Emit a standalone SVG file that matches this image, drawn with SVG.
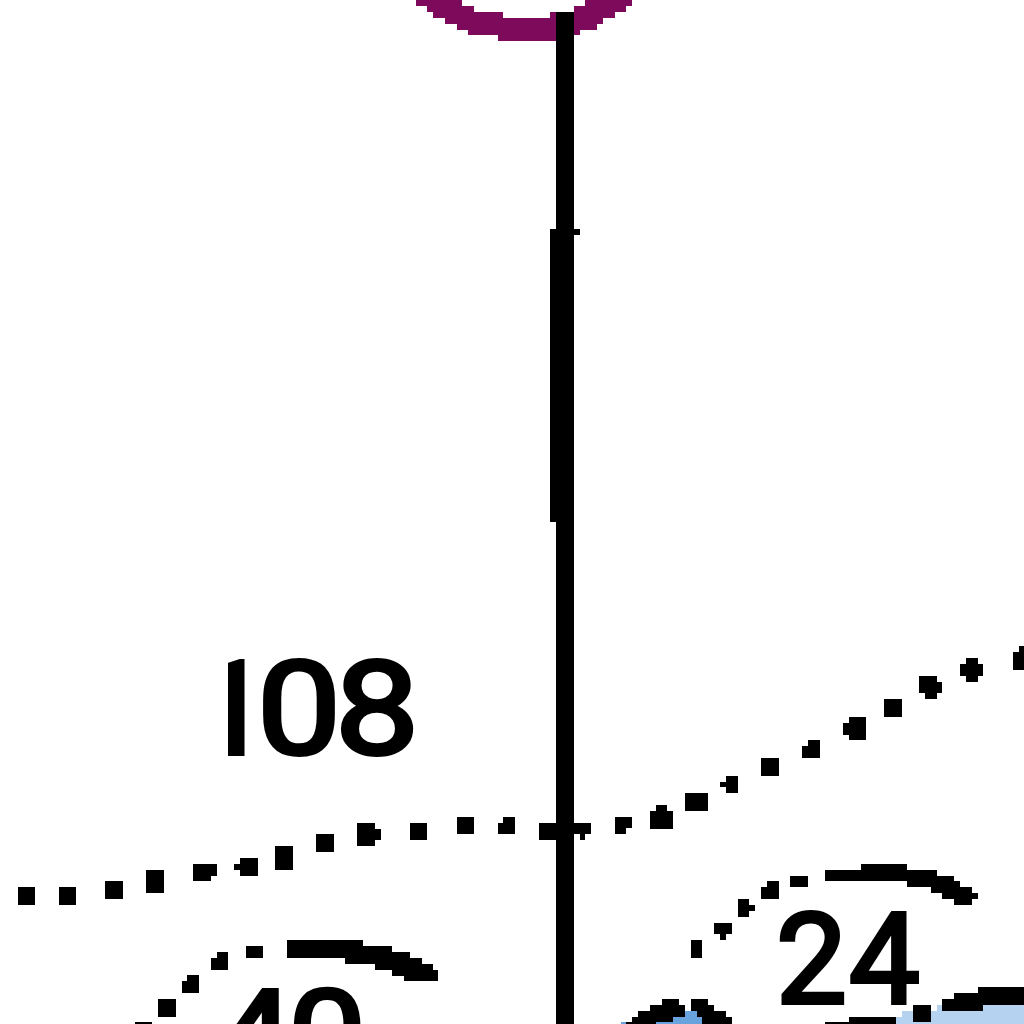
<svg xmlns="http://www.w3.org/2000/svg" width="1024" height="1024" viewBox="0 0 1024 1024">
<style>
.k{fill:#000}
.t{font-family:Roboto,"Liberation Sans",sans-serif;fill:#000;stroke:#000;stroke-width:4px}
</style>
<defs><clipPath id="c108"><rect x="228" y="640" width="200" height="130"/></clipPath></defs>
<rect width="1024" height="1024" fill="#fff"/>
<g shape-rendering="crispEdges">
<path fill="#7d0a5a" d="M416 0H462V6H474V12H503V18H550V12H556V41H498V35H468V30H457V24H445V18H433V12H427V6H416Z"/>
<path fill="#7d0a5a" d="M574 6V35H580V30H597V24H603V18H615V12H626V6H632V0H585V6Z"/>
<path fill="#b5d3f0" d="M896 1024V1017H902V1011H937V1005H1024V1024Z"/>
<path fill="#68a3de" d="M621 1024V1022H656V1017H673V1011H697V1017H702V1024Z"/>
<path class="k" d="M556 12H574V229H580V235H574V823H591V834H585V840H580V834H574V1024H556V840H539V823H556V522H550V229H556Z"/>
<path class="k" d="M18 887H35V905H18Z M59 887H76V905H59Z M105 881H123V899H105Z M146 870H164V893H146Z M193 864H217V876H211V881H193Z M240 858H258V876H240V870H234V864H240Z M275 846H293V870H275Z M316 834H334V852H316Z M357 823H375V829H381V840H375V846H357Z M410 823H427V840H410Z M457 817H474V834H457Z M503 817H515V834H498V823H503Z"/>
<path class="k" d="M615 817H632V828H626V834H615Z M656 805H667V811H673V829H650V811H656Z M685 793H708V811H685Z M726 776H738V793H726V787H720V782H726Z M761 758H779V776H761Z M808 740H820V758H802V746H808Z M849 717H866V740H849V735H843V723H849Z M884 699H902V717H884Z M919 676H937V682H942V693H937V699H925V693H919Z M966 658H978V664H983V676H978V682H966V676H960V664H966Z M1019 646H1024V670H1013V652H1019Z"/>
<path class="k" d="M135 1022H152V1024H135Z M158 999H176V1017H158Z M187 975H199V993H182V981H187Z M217 952H228V970H211V958H217Z M246 946H263V958H246Z"/>
<path class="k" d="M691 940H702V958H691Z M714 923H732V934H726V940H720V934H714Z M738 899H749V905H755V911H749V917H738Z M767 881H779V899H761V887H767Z M790 876H808V887H790Z"/>
<path class="k" d="M287 940H363V946H392V952H410V958H422V964H433V970H438V981H404V976H392V970H375V964H345V958H287Z"/>
<path class="k" d="M861 864H907V870H937V876H954V881H960V887H972V893H978V899H972V905H954V899H942V893H931V887H907V881H825V870H861Z"/>
<path class="k" d="M978 987H1024V1005H983V1011H942V999H954V993H978Z"/>
<path class="k" d="M913 1005H931V1022H913Z"/>
<path class="k" d="M662 999H679V1005H685V1017H673V1022H656V1024H626V1022H632V1017H638V1011H650V1005H662Z"/>
<path class="k" d="M691 999H708V1005H714V1011H726V1017H732V1024H702V1017H697V1011H691Z"/>
<path class="k" d="M849 1017H896V1024H825V1022H849Z"/>
</g>
<g clip-path="url(#c108)"><text class="t" font-size="130" transform="translate(0 754) scale(1.15 1)" x="164.3 223.5 291.3" y="0">108</text></g>
<text class="t" font-size="126" x="776 849" y="1003">24</text>
<text class="t" font-size="126" transform="translate(0 1080) scale(1.1 1)" x="196 262" y="0">40</text>
</svg>
